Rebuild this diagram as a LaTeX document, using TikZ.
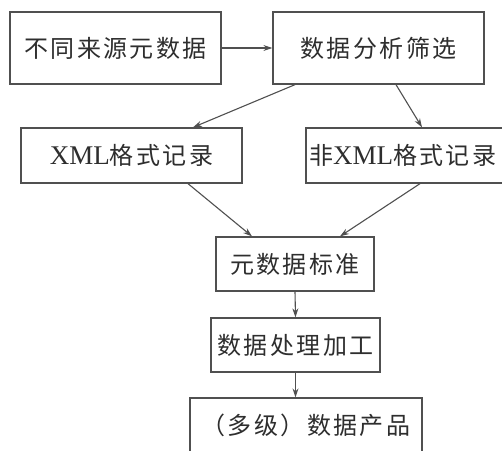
\documentclass[tikz,border=0pt]{standalone}
\usepackage{fontspec}
\setmainfont{Noto Sans CJK SC}[LetterSpace=10]
\newfontfamily\xmlfont{Liberation Serif}
\newcommand{\xmlf}{\xmlfont\fontsize{27}{28}\selectfont}
\usetikzlibrary{arrows.meta}
\definecolor{boxc}{HTML}{505050}
\definecolor{txtc}{HTML}{2E2E2E}
\begin{document}
\begin{tikzpicture}[x=1pt,y=-1pt,
  box/.style={draw=boxc, line width=1.3pt, text=txtc, font=\fontsize{24}{26}\selectfont, inner sep=0pt},
  arr/.style={draw=boxc, line width=1.1pt, -{Stealth[length=9pt,width=6pt]}}]
\useasboundingbox (0,0) rectangle (502,450);
\fill[white] (0,0) rectangle (502,450);
\clip (0,0) rectangle (502,450);
\node[box, minimum width=211, minimum height=72] (b1) at (115.5,48) {不同来源元数据};
\node[box, minimum width=211, minimum height=72] (b2) at (378.5,48) {数据分析筛选};
\node[box, minimum width=221, minimum height=55] (b3) at (131.5,155.5) {{\xmlf XML}格式记录};
\node[box, text width=200, inner xsep=3pt, align=left, minimum height=55] (b4) at (409,155.5) {非{\xmlf XML}格式记录};
\node[box, minimum width=158, minimum height=54] (b5) at (295,264) {元数据标准};
\node[box, minimum width=169, minimum height=54] (b6) at (295.5,345) {数据处理加工};
\node[box, minimum width=232, minimum height=54] (b7) at (306,425) {（多级）数据产品};
\draw[arr] (b1.east) -- (b2.west);
\draw[arr] ([xshift=-83.5pt]b2.south) -- ([xshift=61.5pt]b3.north);
\draw[arr] ([xshift=17.5pt]b2.south) -- ([xshift=13pt]b4.north);
\draw[arr] ([xshift=56.5pt]b3.south) -- ([xshift=-43pt]b5.north);
\draw[arr] ([xshift=11pt]b4.south) -- ([xshift=45pt]b5.north);
\draw[arr] (b5.south) -- (b6.north);
\draw[arr] (b6.south) -- (b6.south |- b7.north);
\end{tikzpicture}
\end{document}
